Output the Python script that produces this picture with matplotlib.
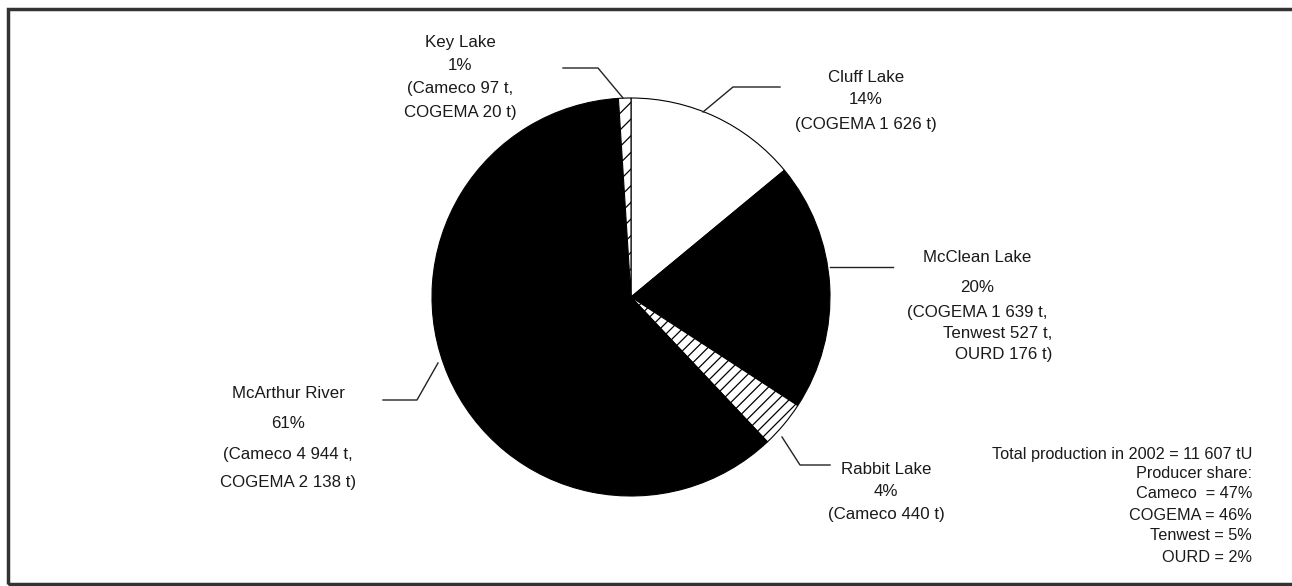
import matplotlib
matplotlib.use("Agg")
import matplotlib.pyplot as plt
from matplotlib.patches import Rectangle

plt.rcParams['font.family'] = ['Liberation Sans', 'DejaVu Sans']
plt.rcParams['hatch.linewidth'] = 0.9

# production 2002 by mine (tU)
mines = ["Cluff Lake", "McClean Lake", "Rabbit Lake", "McArthur River", "Key Lake"]
tonnes = [1626, 1639 + 527 + 176, 440, 4944 + 2138, 97 + 20]
fills = ["white", "black", "white", "black", "white"]
hatches = [None, None, "///", None, "//"]

labels = {
    "Key Lake": ["Key Lake", "1%", "(Cameco 97 t,", "COGEMA 20 t)"],
    "Cluff Lake": ["Cluff Lake", "14%", "(COGEMA 1 626 t)"],
    "McClean Lake": ["McClean Lake", "20%", "(COGEMA 1 639 t,", "Tenwest 527 t,", "OURD 176 t)"],
    "Rabbit Lake": ["Rabbit Lake", "4%", "(Cameco 440 t)"],
    "McArthur River": ["McArthur River", "61%", "(Cameco 4 944 t,", "COGEMA 2 138 t)"],
}
summary = ["Total production in 2002 = 11 607 tU", "Producer share:",
           "Cameco  = 47%", "COGEMA = 46%", "Tenwest = 5%", "OURD = 2%"]

W, H = 1292, 586
fig = plt.figure(figsize=(W / 100, H / 100), dpi=100)
ax = fig.add_axes([0, 0, 1, 1])


def Y(py):
    return H - py


wedges, _ = ax.pie(tonnes, colors=fills, startangle=90, counterclock=False,
                   center=(631, Y(297)), radius=199,
                   wedgeprops=dict(edgecolor="black", linewidth=0.8))
for w, h in zip(wedges, hatches):
    if h:
        w.set_hatch(h)

ax.set_xlim(0, W)
ax.set_ylim(0, H)
ax.set_aspect("auto")
ax.axis("off")

# frame
ax.add_patch(Rectangle((8, Y(584)), 1400, 575, fill=False, edgecolor="#333333",
                       linewidth=2.5, clip_on=False))

# leader lines
lc = dict(color="#222222", linewidth=1.0)
ax.plot([623, 598, 563], [Y(98), Y(68), Y(68)], **lc)
ax.plot([703, 733, 780], [Y(112), Y(87), Y(87)], **lc)
ax.plot([830, 893], [Y(267), Y(267)], **lc)
ax.plot([782, 800, 830], [Y(437), Y(465), Y(465)], **lc)
ax.plot([438, 417, 383], [Y(363), Y(400), Y(400)], **lc)

fs = 12.2
tc = "#1a1a1a"


def put(lines, x, ys, ha="center"):
    for s, y in zip(lines, ys):
        ax.text(x, Y(y), s, ha=ha, va="center", fontsize=fs, color=tc)


put(labels["Key Lake"], 460, [42, 65, 89, 113])
put(labels["Cluff Lake"], 866, [77, 100, 125])
put(labels["McClean Lake"][:3], 977, [257, 287, 312])
put(labels["McClean Lake"][3:], 1052, [334, 355], ha="right")
put(labels["Rabbit Lake"], 886, [470, 492, 514])
put(labels["McArthur River"], 288, [394, 424, 455, 483])

for s, y in zip(summary, [455, 473, 493, 515, 536, 557]):
    ax.text(1252, Y(y), s, ha="right", va="center", fontsize=11.7, color=tc)

fig.savefig("out.png", dpi=100)
